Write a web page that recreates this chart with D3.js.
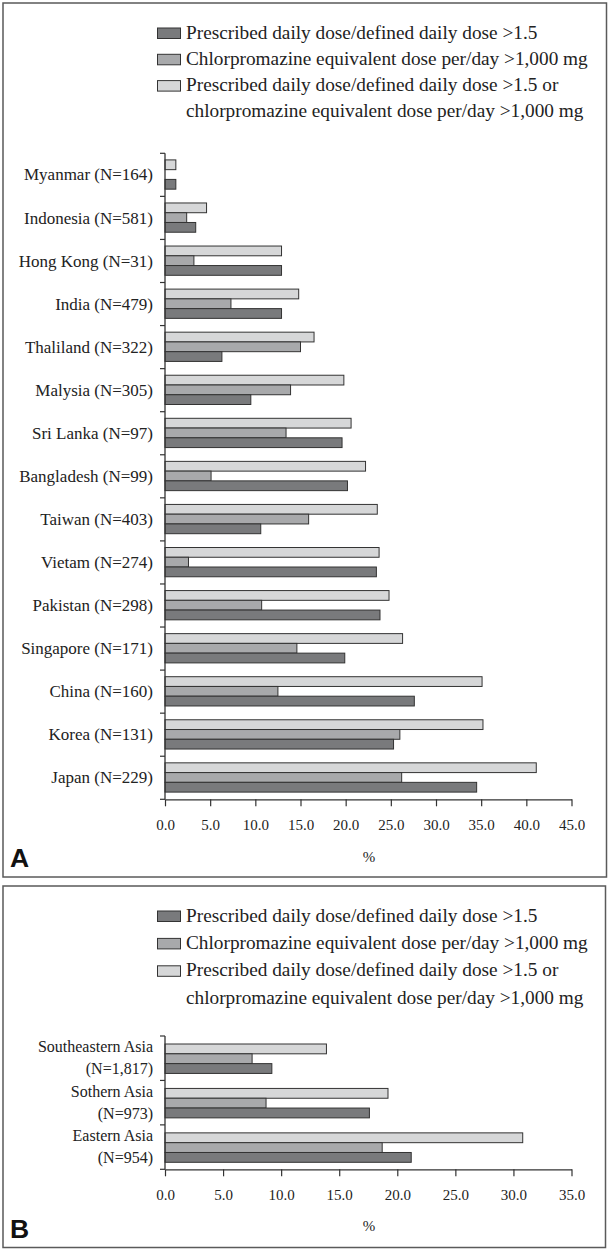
<!DOCTYPE html>
<html><head><meta charset="utf-8">
<script src="https://cdn.jsdelivr.net/npm/d3@7"></script>
<style>
html,body{margin:0;padding:0;background:#fff;}
svg{display:block;}
svg text{font-family:"Liberation Serif","Times New Roman",serif;}
svg text.letter{font-family:"Liberation Sans",Arial,sans-serif;font-weight:bold;}
</style></head>
<body>
<svg id="chart" width="610" height="1251"></svg>
<script>
// ---------- DATA ----------
const seriesKeys = ["either", "cpz", "pdd"]; // top-to-bottom order inside a band
const seriesLabels = [
  ["Prescribed daily dose/defined daily dose >1.5"],
  ["Chlorpromazine equivalent dose per/day >1,000 mg"],
  ["Prescribed daily dose/defined daily dose >1.5 or", "chlorpromazine equivalent dose per/day >1,000 mg"]
];
const legendKeys = ["pdd", "cpz", "either"];

const countriesA = ["Myanmar (N=164)", "Indonesia (N=581)", "Hong Kong (N=31)", "India (N=479)",
  "Thaliland (N=322)", "Malysia (N=305)", "Sri Lanka (N=97)", "Bangladesh (N=99)", "Taiwan (N=403)",
  "Vietam (N=274)", "Pakistan (N=298)", "Singapore (N=171)", "China (N=160)", "Korea (N=131)", "Japan (N=229)"];
const pddA    = [1.2, 3.4, 12.9, 12.9, 6.3, 9.5, 19.6, 20.2, 10.6, 23.4, 23.8, 19.9, 27.6, 25.3, 34.5];
const cpzA    = [null, 2.4, 3.2, 7.3, 15.0, 13.9, 13.4, 5.1, 15.9, 2.6, 10.7, 14.6, 12.5, 26.0, 26.2];
const eitherA = [1.2, 4.6, 12.9, 14.8, 16.5, 19.8, 20.6, 22.2, 23.5, 23.7, 24.8, 26.3, 35.1, 35.2, 41.1];
const ticksA  = [0, 5, 10, 15, 20, 25, 30, 35, 40, 45];

const regionsB = [["Southeastern Asia", "(N=1,817)"], ["Sothern Asia", "(N=973)"], ["Eastern Asia", "(N=954)"]];
const pddB    = [9.2, 17.6, 21.2];
const cpzB    = [7.5, 8.7, 18.7];
const eitherB = [13.9, 19.2, 30.8];
const ticksB  = [0, 5, 10, 15, 20, 25, 30, 35];

// ---------- STYLE ----------
const colors = {pdd: "#797a7c", cpz: "#a8a9ab", either: "#d6d7d8"};
const svg = d3.select("#chart");

function panel(cfg) {
  const g = svg.append("g");
  g.append("rect").attr("x", cfg.frame[0]).attr("y", cfg.frame[1])
    .attr("width", cfg.frame[2]).attr("height", cfg.frame[3])
    .attr("fill", "none").attr("stroke", "#5a5a5a").attr("stroke-width", 1.5);

  // legend
  const lg = g.append("g");
  legendKeys.forEach((k, i) => {
    const lines = seriesLabels[i];
    const base = cfg.legendY + i * cfg.legendStep;
    lg.append("rect").attr("x", 157.5).attr("y", base - 10.5)
      .attr("width", 23).attr("height", 10.5)
      .attr("fill", colors[k]).attr("stroke", "#333").attr("stroke-width", 1);
    lines.forEach((t, j) => {
      lg.append("text").attr("x", 186).attr("y", base + j * cfg.legendStep)
        .attr("font-size", 19.3).attr("fill", "#222").text(t);
    });
  });

  const x = d3.scaleLinear().domain([0, cfg.ticks[cfg.ticks.length - 1]]).range([165, 571.5]);
  const y = d3.scaleBand().domain(cfg.cats.map((c, i) => i)).range([cfg.top, cfg.bottom]).padding(0);
  const sub = d3.scaleBand().domain(seriesKeys).range([cfg.padTop, y.bandwidth() - cfg.padBot]).padding(0);

  const data = cfg.cats.map((c, i) => ({i, either: cfg.either[i], cpz: cfg.cpz[i], pdd: cfg.pdd[i]}));
  const bars = g.append("g");
  data.forEach(d => {
    seriesKeys.forEach(k => {
      if (d[k] == null) return;
      bars.append("rect")
        .attr("x", x(0)).attr("y", y(d.i) + sub(k))
        .attr("width", x(d[k]) - x(0)).attr("height", sub.bandwidth())
        .attr("fill", colors[k]).attr("stroke", "#333").attr("stroke-width", 1);
    });
  });

  // x axis
  const xa = g.append("g").attr("transform", `translate(0,${cfg.bottom})`)
    .call(d3.axisBottom(x).tickValues(cfg.ticks).tickFormat(d3.format(".1f")).tickSize(7).tickPadding(13).tickSizeOuter(0));
  xa.attr("font-family", null).attr("font-size", null);
  xa.select(".domain").attr("stroke", "#333").attr("stroke-width", 1.3);
  xa.selectAll(".tick line").attr("stroke", "#333").attr("stroke-width", 1.2);
  xa.selectAll("text").attr("font-size", 15).attr("fill", "#222");

  // y axis line + boundary ticks
  g.append("line").attr("x1", x(0)).attr("x2", x(0)).attr("y1", cfg.top).attr("y2", cfg.bottom)
    .attr("stroke", "#333").attr("stroke-width", 1.3);
  const bounds = cfg.cats.map((c, i) => y(i)).concat([cfg.bottom]);
  g.selectAll(null).data(bounds).enter().append("line")
    .attr("x1", x(0) - 5).attr("x2", x(0)).attr("y1", d => d).attr("y2", d => d)
    .attr("stroke", "#333").attr("stroke-width", 1.2);

  // category labels
  data.forEach(d => {
    const c = cfg.cats[d.i];
    const lines = Array.isArray(c) ? c : [c];
    const cy = y(d.i) + y.bandwidth() / 2;
    lines.forEach((t, j) => {
      const off = lines.length === 1 ? 0 : (j === 0 ? -11 : 11);
      g.append("text").attr("x", 153).attr("y", cy + off).attr("dy", "0.33em")
        .attr("text-anchor", "end").attr("font-size", cfg.labelSize)
        .attr("fill", "#222").text(t);
    });
  });

  g.append("text").attr("x", 369).attr("y", cfg.pctY).attr("text-anchor", "middle")
    .attr("font-size", 15).attr("fill", "#222").text("%");

  g.append("text").attr("class", "letter").attr("x", 10).attr("y", cfg.letterY)
    .attr("font-size", 26.5).attr("fill", "#111").text(cfg.letter);
}

panel({
  frame: [3, 3, 603.5, 874], legendY: 38.5, legendStep: 26.3,
  cats: countriesA, pdd: pddA, cpz: cpzA, either: eitherA, ticks: ticksA,
  top: 153.3, bottom: 799.3, padTop: 6.6, padBot: 7.2, labelSize: 17,
  pctY: 862, letter: "A", letterY: 867.3
});
panel({
  frame: [3, 886, 602.5, 361.5], legendY: 921.5, legendStep: 27.4,
  cats: regionsB, pdd: pddB, cpz: cpzB, either: eitherB, ticks: ticksB,
  top: 1036, bottom: 1169.3, padTop: 8, padBot: 7, labelSize: 16,
  pctY: 1231, letter: "B", letterY: 1238.3
});
</script>
</body></html>
